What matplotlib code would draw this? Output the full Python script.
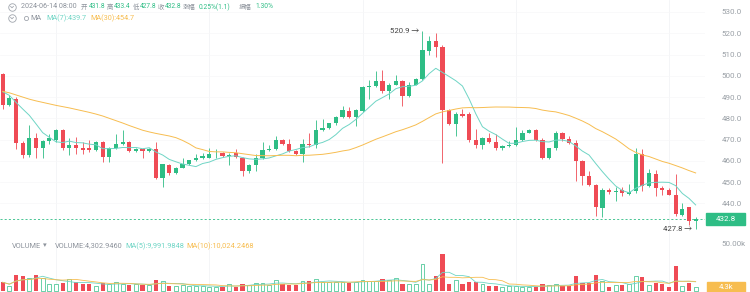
import numpy as np
import pandas as pd
import matplotlib
matplotlib.use('Agg')
import matplotlib.pyplot as plt
import matplotlib.transforms as mtransforms
from matplotlib.patches import Rectangle

plt.rcParams['font.family'] = ['Roboto', 'Noto Sans CJK SC', 'DejaVu Sans']

# candle data
opens = [501.0, 486.3, 489.1, 468.6, 462.7, 470.6, 465.9, 469.4, 469.8, 474.6,
         466.2, 467.3, 465.9, 466.0, 465.0, 468.9, 462.0, 466.2, 468.1, 468.9,
         464.6, 465.5, 464.6, 465.4, 452.0, 458.0, 454.4, 456.7, 458.3, 460.2,
         461.2, 461.5, 463.1, 463.7, 462.4, 463.5, 461.5, 455.2, 458.0, 461.2,
         465.0, 465.4, 470.0, 468.1, 464.6, 463.1, 467.8, 467.3, 474.4, 475.5,
         477.6, 480.8, 483.6, 480.4, 483.6, 494.6, 495.0, 497.5, 492.7, 495.9,
         497.5, 490.7, 495.9, 498.6, 511.7, 516.4, 513.6, 483.9, 477.3, 482.0,
         482.2, 469.6, 467.5, 470.9, 469.1, 466.2, 467.0, 467.3, 470.0, 473.2,
         474.4, 469.7, 461.5, 465.9, 473.3, 470.2, 468.6, 459.9, 452.8, 448.5,
         437.8, 446.5, 445.5, 446.5, 444.6, 445.7, 463.1, 448.1, 453.9, 447.3,
         446.5, 444.1, 434.6, 438.1, 431.8]
highs = [501.5, 491.0, 490.0, 469.5, 476.8, 473.3, 469.9, 472.5, 475.0, 474.8,
         470.9, 471.0, 469.0, 470.0, 469.5, 469.3, 466.5, 472.5, 474.4, 469.2,
         466.0, 466.0, 466.2, 469.1, 458.5, 458.3, 457.0, 461.2, 460.5, 463.0,
         463.5, 466.2, 465.4, 464.0, 463.5, 465.5, 461.8, 458.5, 463.0, 469.1,
         467.5, 471.7, 470.5, 470.2, 465.0, 470.2, 473.3, 479.2, 479.6, 478.0,
         481.0, 486.0, 485.5, 484.5, 495.0, 497.8, 502.2, 502.8, 496.5, 500.5,
         498.0, 497.0, 499.0, 520.9, 518.5, 519.9, 514.5, 484.6, 483.0, 484.6,
         483.0, 475.0, 471.2, 473.0, 472.5, 467.5, 469.4, 475.7, 474.4, 475.2,
         474.8, 470.9, 466.2, 474.1, 473.8, 471.5, 470.0, 460.5, 455.0, 449.0,
         447.0, 447.0, 447.5, 447.5, 449.0, 466.2, 465.5, 456.0, 455.5, 448.0,
         447.0, 453.9, 440.0, 438.5, 433.4]
lows = [484.4, 486.0, 465.4, 461.2, 462.0, 461.5, 461.2, 468.0, 469.0, 465.0,
        462.7, 463.0, 463.0, 464.0, 464.5, 459.6, 459.6, 465.5, 467.5, 464.0,
        464.0, 461.2, 464.0, 451.5, 447.6, 453.3, 454.0, 456.5, 458.0, 459.8,
        460.8, 461.3, 461.5, 462.0, 458.0, 461.3, 452.8, 454.5, 455.0, 461.0,
        464.5, 465.0, 467.5, 464.3, 462.8, 459.6, 466.5, 466.0, 474.0, 475.0,
        477.0, 480.0, 480.0, 476.5, 483.0, 489.0, 494.5, 492.0, 489.1, 495.5,
        486.0, 490.0, 495.5, 498.0, 510.0, 508.8, 459.1, 477.0, 471.7, 480.5,
        469.0, 465.9, 465.4, 468.5, 464.9, 465.0, 466.5, 467.0, 469.5, 473.0,
        469.2, 461.0, 461.0, 465.0, 469.5, 468.0, 450.4, 448.8, 448.0, 434.3,
        433.8, 444.5, 441.3, 443.5, 444.0, 445.0, 446.0, 447.5, 443.3, 444.0,
        443.8, 434.0, 434.0, 430.0, 427.8]
closes = [486.3, 489.4, 468.6, 462.7, 470.6, 465.9, 469.4, 470.9, 474.6, 466.2,
          467.3, 465.9, 465.0, 465.0, 468.9, 461.9, 466.2, 468.1, 468.9, 464.6,
          465.5, 464.6, 465.4, 452.0, 458.3, 454.4, 456.7, 458.3, 460.2, 461.2,
          462.1, 463.1, 463.3, 462.4, 462.8, 461.7, 455.2, 458.0, 461.5, 465.0,
          465.4, 469.7, 468.1, 464.6, 463.1, 467.8, 467.3, 474.4, 475.3, 477.6,
          480.8, 483.8, 480.4, 484.0, 494.6, 495.3, 497.5, 492.7, 495.9, 497.5,
          490.7, 495.9, 498.6, 512.0, 516.4, 513.6, 483.9, 477.3, 482.0, 481.2,
          469.6, 467.5, 470.9, 469.1, 466.2, 467.0, 467.3, 470.0, 473.2, 474.6,
          469.7, 461.5, 465.9, 473.3, 470.2, 468.6, 459.9, 452.8, 448.5, 438.1,
          446.5, 445.5, 446.0, 444.9, 445.5, 463.1, 448.1, 454.4, 447.3, 446.5,
          444.1, 434.9, 437.5, 431.8, 432.8]
# volume in thousands
volumes = [9.2, 5.2, 17.0, 15.9, 13.4, 17.0, 14.2, 7.4, 7.4, 8.1,
           12.4, 9.2, 7.4, 7.0, 5.2, 8.1, 7.4, 9.2, 7.4, 6.4,
           7.0, 6.4, 6.4, 11.7, 10.6, 5.2, 5.2, 6.4, 5.2, 5.2,
           5.2, 4.6, 4.6, 4.6, 7.4, 4.6, 7.0, 6.4, 8.9, 8.1,
           6.4, 11.7, 7.0, 6.4, 6.4, 11.0, 11.0, 12.4, 9.2, 9.2,
           9.2, 9.2, 8.9, 9.5, 11.3, 10.9, 10.9, 12.8, 11.3, 13.4,
           7.0, 7.0, 7.0, 28.3, 7.7, 15.9, 38.9, 7.7, 11.3, 7.7,
           9.9, 9.9, 7.0, 5.3, 5.3, 4.3, 5.3, 5.3, 4.3, 4.3,
           4.3, 7.0, 6.4, 7.0, 5.3, 5.3, 15.9, 8.9, 8.9, 16.5,
           10.6, 4.3, 6.4, 6.4, 7.0, 15.9, 14.8, 6.4, 8.1, 7.0,
           4.3, 26.5, 5.3, 8.1, 4.302946]
# moving averages before enough visible candles
ma30_head = [492.7, 492.0, 491.0, 490.0, 489.0, 488.2, 487.5, 486.8, 486.1, 485.5,
             484.9, 484.2, 483.5, 482.8, 482.0, 481.1, 480.0, 478.9, 477.8, 476.6,
             475.5, 474.4, 473.6, 472.9, 472.3, 471.7, 470.9, 469.6, 468.0]
ma7_head = [492.5, 490.8, 487.5, 484.4, 481.4, 477.4]

price_ticks = [440, 450, 460, 470, 480, 490, 500, 510, 520, 530]

GREEN = '#2ebd85'
RED = '#ef4b55'
TEAL = '#6fd5c5'
ORANGE = '#f7bd50'
GRAY = '#8d939c'

df = pd.DataFrame({'o': opens, 'h': highs, 'l': lows, 'c': closes, 'v': np.array(volumes) * 1000})
n = len(df)
x = np.arange(n)
up = df['c'] >= df['o']

ma7 = df['c'].rolling(7).mean().values
ma7[:len(ma7_head)] = ma7_head
ma30 = df['c'].rolling(30).mean().values
ma30[:len(ma30_head)] = ma30_head
vma5 = df['v'].rolling(5, min_periods=1).mean()
vma10 = df['v'].rolling(10, min_periods=1).mean()

W, H = 750, 292
fig = plt.figure(figsize=(7.5, 2.92), dpi=100)
fig.patch.set_facecolor('white')

xl = (-2.7 / 6.663, (705 - 2.7) / 6.663)
ax = fig.add_axes([0, (H - 233) / H, 705 / W, 233 / H])
axv = fig.add_axes([0, 0, 705 / W, 59 / H])
scale = 2.1265
ax.set_ylim(530 - 221 / scale, 530 + 12 / scale)
axv.set_ylim(-1 / 0.95 * 1000, 58 / 0.95 * 1000)
for a in (ax, axv):
    a.set_xlim(*xl)
    a.set_facecolor('none')
    for s in a.spines.values():
        s.set_visible(False)
    a.set_xticks([])
    a.yaxis.tick_right()
    a.tick_params(axis='y', length=0, pad=12, labelsize=5.8, labelcolor='#9aa0a6')
    for gx in [8, 31, 54, 77, 100]:
        a.axvline(gx, color='#f3f4f6', lw=0.6, zorder=0)

ax.set_yticks(price_ticks)
ax.set_yticklabels([f'{t:.1f}' for t in price_ticks])
for t in price_ticks:
    ax.axhline(t, color='#f7f7f8', lw=0.5, zorder=0)
axv.set_yticks([50000])
axv.set_yticklabels(['50.00k'])

# candles
cols = np.where(up, GREEN, RED)
ax.vlines(x, df['l'], df['h'], colors=cols, lw=0.6, zorder=2)
body = np.maximum((df['c'] - df['o']).abs(), 0.35)
ax.bar(x, body, bottom=np.minimum(df['o'], df['c']), width=0.64, color=cols, lw=0, zorder=3)
ax.plot(x, ma7, color=TEAL, lw=0.7, zorder=4)
ax.plot(x, ma30, color=ORANGE, lw=0.7, zorder=4)

last = df['c'].iloc[-1]
ax.axhline(last, color=GREEN, lw=0.6, ls=(0, (2.5, 2.5)), zorder=1)
blend = mtransforms.blended_transform_factory(ax.transAxes, ax.transData)
ax.add_patch(Rectangle((1.0014, last - 2.9), 0.0555, 5.8, transform=blend, color=GREEN, clip_on=False, zorder=5))
ax.text(1.029, last, f'{last:.1f}', transform=blend, color='white', fontsize=5.8, ha='center', va='center', zorder=6)

hi = int(df['h'].idxmax())
lo = int(df['l'].idxmin())
ax.text(hi - 0.5, df['h'][hi], f'{df["h"][hi]:.1f} \u2192', ha='right', va='center', fontsize=5.6, color='#444444')
ax.text(lo - 0.5, df['l'][lo], f'{df["l"][lo]:.1f} \u2192', ha='right', va='center', fontsize=5.6, color='#444444')

# volume
axv.bar(x[~up], df['v'][~up], width=0.64, color=RED, lw=0, zorder=2)
axv.bar(x[up], df['v'][up], width=0.58, facecolor='white', edgecolor=GREEN, lw=0.5, zorder=2)
axv.plot(x, vma5, color=TEAL, lw=0.6, zorder=3)
axv.plot(x, vma10, color=ORANGE, lw=0.6, zorder=3)
vlast = df['v'].iloc[-1]
blendv = mtransforms.blended_transform_factory(axv.transAxes, axv.transData)
axv.add_patch(Rectangle((1.003, vlast - 6000), 0.054, 11600, transform=blendv, color=ORANGE, clip_on=False, zorder=5))
axv.text(1.03, vlast, f'{vlast / 1000:.1f}k', transform=blendv, color='white', fontsize=5.6, ha='center', va='center', zorder=6)

# header texts in pixel coords
ov = fig.add_axes([0, 0, 1, 1])
ov.set_xlim(0, W)
ov.set_ylim(H, 0)
ov.axis('off')
ov.patch.set_alpha(0)


def icon(cx, cy):
    ov.plot([cx], [cy], marker='o', ms=5.4, mfc='none', mec='#a0a5ad', mew=0.6)
    ov.plot([cx - 1.4, cx, cx + 1.4], [cy - 0.6, cy + 0.8, cy - 0.6], color='#a0a5ad', lw=0.6)


icon(12, 7)
icon(12, 18)
o, h, l, c = opens[-1], highs[-1], lows[-1], closes[-1]
NUM, CJK = 4.8, 4.6
row1 = [(21, '2024-06-14 08:00', GRAY, 5.2), (81, '开', GRAY, CJK), (89, f'{o:.1f}', GREEN, NUM),
        (107, '高', GRAY, CJK), (114, f'{h:.1f}', GREEN, NUM), (133, '低', GRAY, CJK),
        (140, f'{l:.1f}', GREEN, NUM), (158, '收', GRAY, CJK), (165, f'{c:.1f}', GREEN, NUM),
        (183, '涨幅', GRAY, CJK), (199, '0.25%(1.1)', GREEN, NUM), (239, '振幅', GRAY, CJK),
        (255, '1.30%', GREEN, NUM)]
for px, t, col, size in row1:
    ov.text(px, 7, t, color=col, fontsize=size, va='center', ha='left')
ov.plot([26], [17.5], marker='o', ms=3, mfc='none', mec='#a0a5ad', mew=0.6)
row2 = [(30, 'MA', GRAY), (46, 'MA(7):439.7', TEAL), (90, 'MA(30):454.7', ORANGE)]
for px, t, col in row2:
    ov.text(px, 18, t, color=col, fontsize=5.2, va='center', ha='left')
row3 = [(12, 'VOLUME', GRAY), (43, '\u25be', GRAY), (55, 'VOLUME:4,302.9460', GRAY),
        (125, 'MA(5):9,991.9848', TEAL), (186, 'MA(10):10,024.2468', ORANGE)]
for px, t, col in row3:
    ov.text(px, 246, t, color=col, fontsize=5.3, va='center', ha='left')

fig.savefig('out.png', dpi=100)
